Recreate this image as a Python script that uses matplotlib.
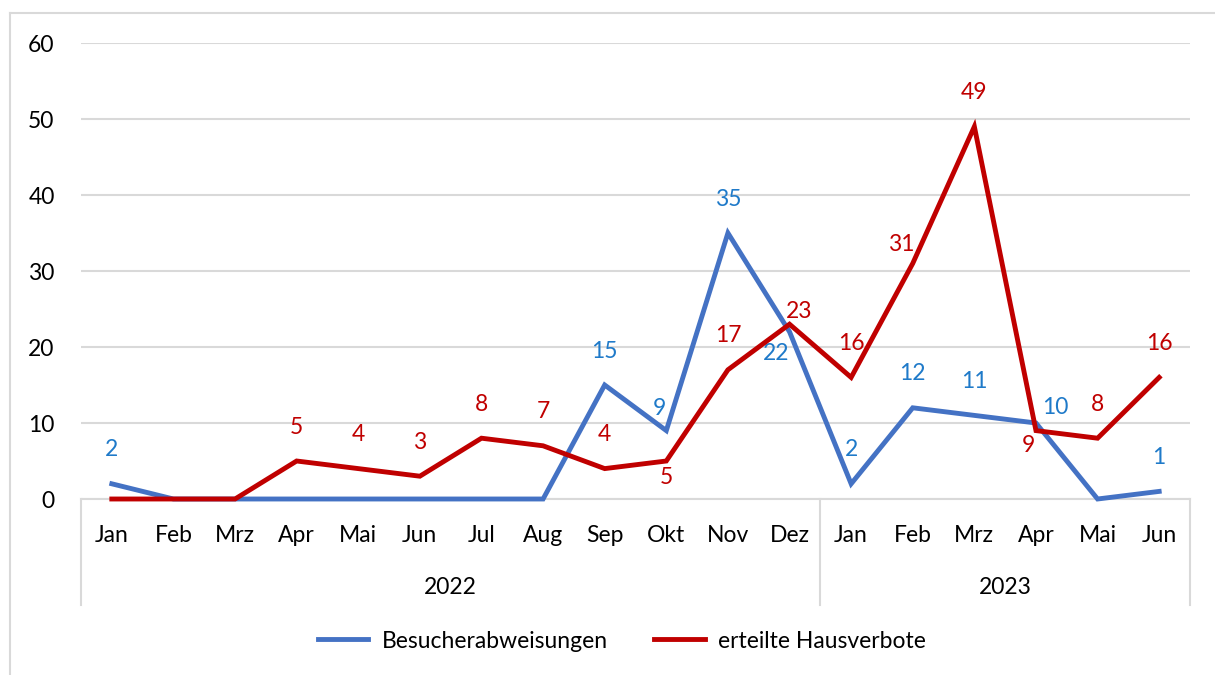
import matplotlib.pyplot as plt
from matplotlib.lines import Line2D

plt.rcParams['font.family'] = ['Lato', 'DejaVu Sans']

months = ['Jan', 'Feb', 'Mrz', 'Apr', 'Mai', 'Jun', 'Jul', 'Aug', 'Sep', 'Okt', 'Nov', 'Dez',
          'Jan', 'Feb', 'Mrz', 'Apr', 'Mai', 'Jun']
years = ['2022', '2023']
year_sizes = [12, 6]
abweisungen = [2, 0, 0, 0, 0, 0, 0, 0, 15, 9, 35, 22, 2, 12, 11, 10, 0, 1]
hausverbote = [0, 0, 0, 5, 4, 3, 8, 7, 4, 5, 17, 23, 16, 31, 49, 9, 8, 16]

blau = '#4472C4'
blau_txt = '#1F7AC9'
rot = '#C00000'
grau = '#D9D9D9'
fs = 16.5

# label offsets in pixels (default: above)
off_blau = {9: (-7, 22), 11: (-13, -22), 15: (19, 15)}
off_rot = {9: (0, -16), 11: (10, 13), 13: (-11, 19), 15: (-8, -15), 16: (0, 34)}

fig = plt.figure(figsize=(12.15, 6.75), dpi=100)
ax = fig.add_axes([81 / 1215, 1 - 499 / 675, 1109 / 1215, 456 / 675])

x = list(range(len(months)))
ax.plot(x, abweisungen, color=blau, lw=3.5, solid_joinstyle='miter', zorder=3, clip_on=False)
ax.plot(x, hausverbote, color=rot, lw=3.5, solid_joinstyle='miter', zorder=4, clip_on=False)

for i, v in enumerate(abweisungen):
    if v:
        dx, dy = off_blau.get(i, (0, 34))
        ax.annotate(str(v), (i, v), xytext=(dx, dy), textcoords='offset pixels',
                    ha='center', va='center', color=blau_txt, fontsize=fs)
for i, v in enumerate(hausverbote):
    if v:
        dx, dy = off_rot.get(i, (0, 34))
        ax.annotate(str(v), (i, v), xytext=(dx, dy), textcoords='offset pixels',
                    ha='center', va='center', color=rot, fontsize=fs)

ax.set_xlim(-0.5, len(months) - 0.5)
ax.set_ylim(0, 60)
ax.set_yticks(range(0, 61, 10))
ax.grid(axis='y', color=grau, lw=1.5)
ax.set_axisbelow(True)
for s in ['top', 'right', 'left']:
    ax.spines[s].set_visible(False)
ax.spines['bottom'].set_color(grau)
ax.spines['bottom'].set_linewidth(1.5)
ax.set_xticks(x)
ax.set_xticklabels(months)
ax.tick_params(axis='x', length=0, pad=19, labelsize=fs)
ax.tick_params(axis='y', length=0, pad=19, labelsize=fs)

# year groups
trans = ax.get_xaxis_transform()
start = -0.5
ax.plot([start, start], [0, -0.232], color=grau, lw=1.5, transform=trans, clip_on=False)
for yr, n in zip(years, year_sizes):
    end = start + n
    ax.plot([end, end], [0, -0.232], color=grau, lw=1.5, transform=trans, clip_on=False)
    ax.text((start + end) / 2, -0.193, yr, transform=trans, ha='center', va='center', fontsize=fs)
    start = end

# outer frame (top and left)
fig.add_artist(Line2D([10 / 1215, 1], [1 - 13 / 675] * 2, color=grau, lw=1.5))
fig.add_artist(Line2D([10 / 1215] * 2, [0, 1 - 13 / 675], color=grau, lw=1.5))

handles = [Line2D([], [], color=blau, lw=3.5), Line2D([], [], color=rot, lw=3.5)]
fig.legend(handles, ['Besucherabweisungen', 'erteilte Hausverbote'], loc='center',
           bbox_to_anchor=(0.512, 1 - 641 / 675), ncol=2, frameon=False, fontsize=fs,
           handlelength=2.2, handletextpad=0.6, columnspacing=2.0)

fig.savefig('out.png', dpi=100)
